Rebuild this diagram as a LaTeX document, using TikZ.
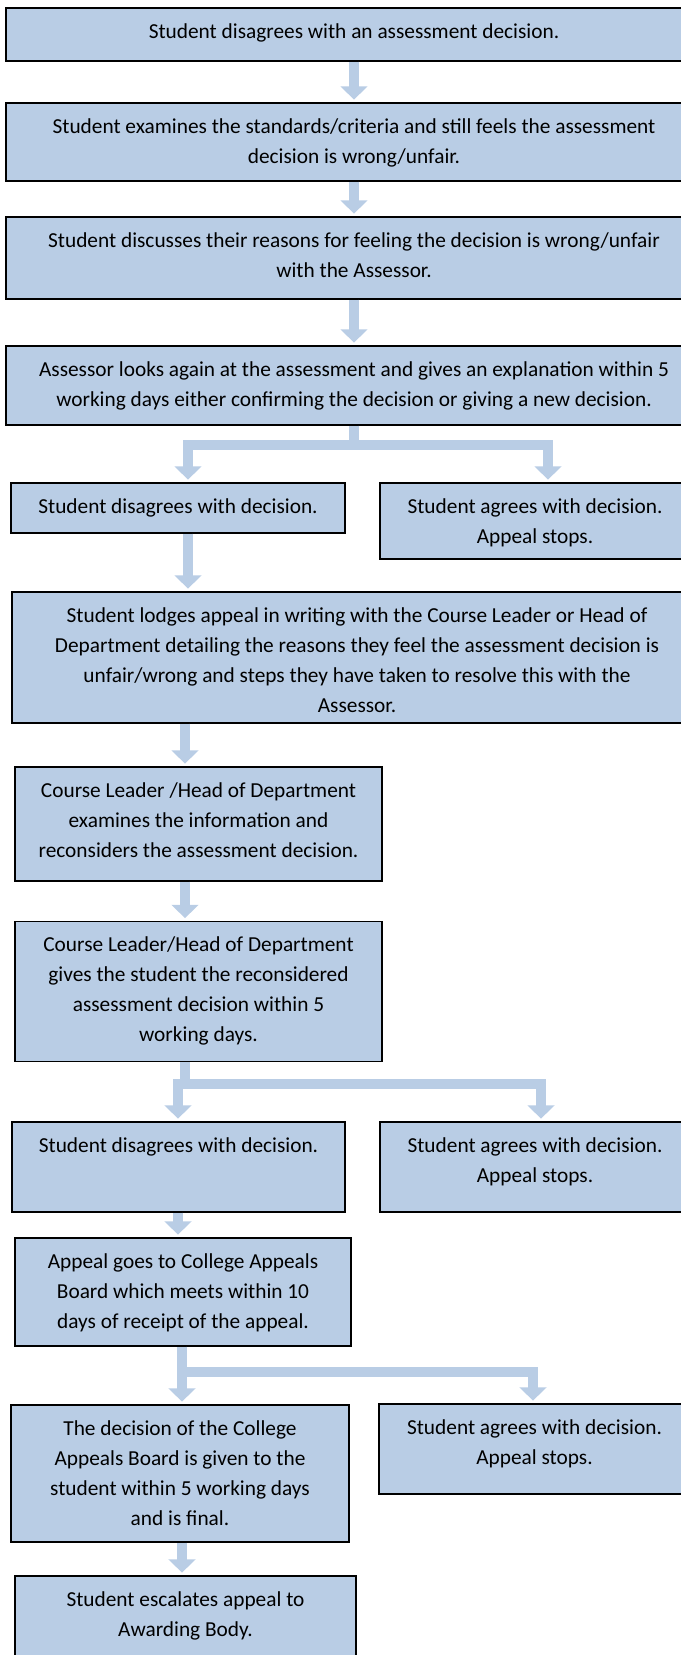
\documentclass[tikz,border=0pt]{standalone}
\usepackage{fontspec}
\setmainfont{Carlito}
\usepackage{tikz}
\usetikzlibrary{arrows.meta,positioning}

\definecolor{boxblue}{HTML}{B9CDE5}

\tikzset{
  box/.style={draw=black, line width=1.1pt, fill=boxblue, inner sep=0pt},
  txt/.style={align=center, inner sep=0pt, font=\fontsize{16}{22.5}\selectfont},
  bar/.style={draw=boxblue, line width=7.5pt},
  flow/.style={bar, line join=miter, shorten >=2pt, -{Triangle[width=20pt,length=10pt]}}
}

\begin{document}
\begin{tikzpicture}[x=0.75pt,y=0.75pt,yscale=-1,xscale=1]
\clip (0,0) rectangle (681,1655);

%Shape: Rectangle
\node[box, minimum width=522pt, minimum height=39.75pt] (b1) at (354,34.5) {};
%Shape: Rectangle
\node[box, minimum width=522pt, minimum height=58.5pt] (b2) at (354,142) {};
%Shape: Rectangle
\node[box, minimum width=522pt, minimum height=61.5pt] (b3) at (354,258) {};
%Shape: Rectangle
\node[box, minimum width=522pt, minimum height=59.25pt] (b4) at (354,385.5) {};
%Shape: Rectangle
\node[box, minimum width=250.5pt, minimum height=37.5pt] (b5a) at (178,508) {};
%Shape: Rectangle
\node[box, minimum width=232.5pt, minimum height=57pt] (b5b) at (535,521) {};
%Shape: Rectangle
\node[box, minimum width=517.5pt, minimum height=98.25pt] (b6) at (357,657.5) {};
%Shape: Rectangle
\node[box, minimum width=275.25pt, minimum height=85.5pt] (b7) at (198.5,824) {};
%Shape: Rectangle
\node[box, minimum width=275.25pt, minimum height=105pt] (b8) at (198.5,991.5) {};
%Shape: Rectangle
\node[box, minimum width=249.75pt, minimum height=67.5pt] (b9a) at (178.5,1167) {};
%Shape: Rectangle
\node[box, minimum width=232.5pt, minimum height=67.5pt] (b9b) at (535,1167) {};
%Shape: Rectangle
\node[box, minimum width=252pt, minimum height=81pt] (b10) at (183,1292) {};
%Shape: Rectangle
\node[box, minimum width=253.5pt, minimum height=102.75pt] (b11a) at (180,1473.5) {};
%Shape: Rectangle
\node[box, minimum width=233.25pt, minimum height=67.5pt] (b11b) at (534.5,1449) {};
%Shape: Rectangle
\node[box, minimum width=255.75pt, minimum height=78pt] (b12) at (185.5,1628) {};

% columns and junctions
\coordinate (cA) at (188,0);
\coordinate (cB) at (185,0);
\coordinate (cC) at (178,0);
\coordinate (cD) at (182,0);
\coordinate (rA) at (548,0);
\coordinate (rB) at (541,0);
\coordinate (rC) at (533,0);
\coordinate (j1) at (354,445);
\coordinate (j2) at (185,1084);
\coordinate (j3) at (182,1372);

%Straight Lines
\draw[flow] (b1) -- (b2);
\draw[flow] (b2) -- (b3);
\draw[flow] (b3) -- (b4);
\draw[bar] (b4.south) -- (j1);
\draw[flow] (j1) -| (b5a.north -| cA);
\draw[flow] (j1) -| (b5b.north -| rA);
\draw[flow] (b5a.south -| cA) -- (b6.north -| cA);
\draw[flow] (b6.south -| cB) -- (b7.north -| cB);
\draw[flow] (b7.south -| cB) -- (b8.north -| cB);
\draw[bar] (b8.south -| cB) -- (j2);
\draw[flow] (j2) -| (b9a.north -| cC);
\draw[flow] (j2) -| (b9b.north -| rB);
\draw[flow] (b9a.south -| cC) -- (b10.north -| cC);
\draw[bar] (b10.south -| cD) -- (j3);
\draw[flow] (j3) -| (b11a.north -| cD);
\draw[flow] (j3) -| (b11b.north -| rC);
\draw[flow] (b11a.south -| cD) -- (b12.north -| cD);

% Text Node
\node[txt, below=12pt of b1.north] (t1) {Student disagrees with an assessment decision.};
% Text Node
\node[txt, below=12pt of b2.north] (t2) {Student examines the standards/criteria and still feels the assessment\\ decision is wrong/unfair.};
% Text Node
\node[txt, below=12pt of b3.north] (t3) {Student discusses their reasons for feeling the decision is wrong/unfair\\ with the Assessor.};
% Text Node
\node[txt, below=12pt of b4.north] (t4) {Assessor looks again at the assessment and gives an explanation within 5\\ working days either confirming the decision or giving a new decision.};
% Text Node
\node[txt, below=12pt of b5a.north] (t5a) {Student disagrees with decision.};
% Text Node
\node[txt, below=12pt of b5b.north] (t5b) {Student agrees with decision.\\ Appeal stops.};
% Text Node
\node[txt, below=12pt of b6.north] (t6) {Student lodges appeal in writing with the Course Leader or Head of\\ Department detailing the reasons they feel the assessment decision is\\ unfair/wrong and steps they have taken to resolve this with the\\ Assessor.};
% Text Node
\node[txt, below=12pt of b7.north] (t7) {Course Leader /Head of Department\\ examines the information and\\ reconsiders the assessment decision.};
% Text Node
\node[txt, below=12pt of b8.north] (t8) {Course Leader/Head of Department\\ gives the student the reconsidered\\ assessment decision within 5\\ working days.};
% Text Node
\node[txt, below=12pt of b9a.north] (t9a) {Student disagrees with decision.};
% Text Node
\node[txt, below=12pt of b9b.north] (t9b) {Student agrees with decision.\\ Appeal stops.};
% Text Node
\node[txt, below=12pt of b10.north] (t10) {Appeal goes to College Appeals\\ Board which meets within 10\\ days of receipt of the appeal.};
% Text Node
\node[txt, below=12pt of b11a.north] (t11a) {The decision of the College\\ Appeals Board is given to the\\ student within 5 working days\\ and is final.};
% Text Node
\node[txt, below=12pt of b11b.north] (t11b) {Student agrees with decision.\\ Appeal stops.};
% Text Node
\node[txt, below=12pt of b12.north] (t12) {Student escalates appeal to\\ Awarding Body.};

\end{tikzpicture}
\end{document}
